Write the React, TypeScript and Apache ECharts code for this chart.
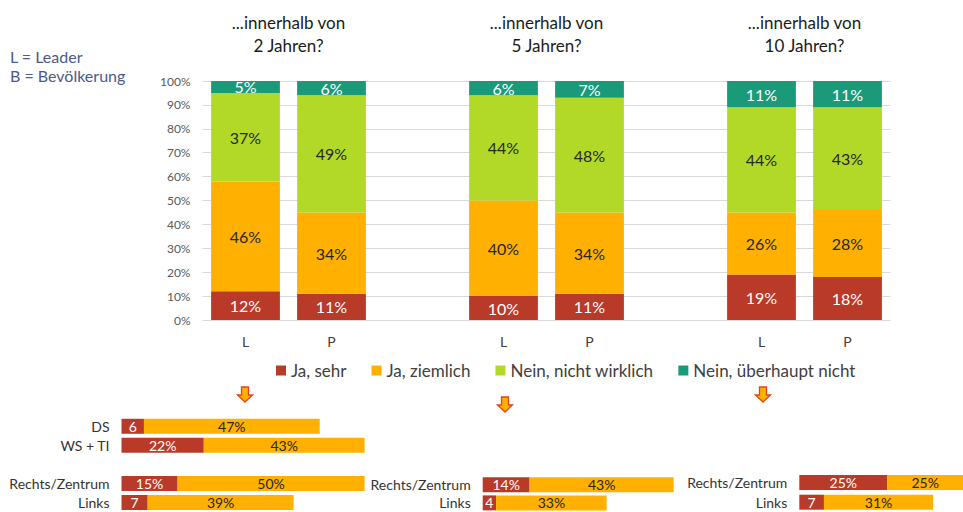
import React, { useEffect, useRef } from "react";
import * as echarts from "echarts";

// ---- Main chart data ----
const mainCategories = ["L", "P", "", "L", "P", "", "L", "P"];
const seriesNames = ["Ja, sehr", "Ja, ziemlich", "Nein, nicht wirklich", "Nein, überhaupt nicht"];
const jaSehr = [12, 11, null, 10, 11, null, 19, 18];
const jaZiemlich = [46, 34, null, 40, 34, null, 26, 28];
const neinNicht = [37, 49, null, 44, 48, null, 44, 43];
const neinUeberhaupt = [5, 6, null, 6, 7, null, 11, 11];
const groupTitles = ["...innerhalb von\n2 Jahren?", "...innerhalb von\n5 Jahren?", "...innerhalb von\n10 Jahren?"];

// ---- Bottom breakdown data ----
const grp1Cats = ["DS", "WS + TI", "", "Rechts/Zentrum", "Links"];
const grp1Sehr = [6, 22, null, 15, 7];
const grp1Ziemlich = [47, 43, null, 50, 39];
const grp2Cats = ["Rechts/Zentrum", "Links"];
const grp2Sehr = [14, 4];
const grp2Ziemlich = [43, 33];
const grp3Cats = ["Rechts/Zentrum", "Links"];
const grp3Sehr = [25, 7];
const grp3Ziemlich = [25, 31];

const COLORS = ["#B93A28", "#FFB000", "#B3D928", "#1B9A7A"];
const FONT = "Lato";

export default function App() {
  const ref = useRef<HTMLDivElement>(null);
  useEffect(() => {
    if (!ref.current) return;
    const chart = echarts.init(ref.current, null, { renderer: "svg" });

    const mainSeriesData = [jaSehr, jaZiemlich, neinNicht, neinUeberhaupt];
    const mainLabelColors = ["#ffffff", "#262626", "#262626", "#ffffff"];
    const mainSeries = mainSeriesData.map((d, i) => ({
      type: "bar",
      name: seriesNames[i],
      stack: "main",
      xAxisIndex: 0,
      yAxisIndex: 0,
      barWidth: "80%",
      data: d,
      itemStyle: { color: COLORS[i] },
      label: {
        show: true,
        position: "inside",
        color: mainLabelColors[i],
        fontSize: 16,
        fontFamily: FONT,
        formatter: (p: any) => (p.value == null ? "" : p.value + "%"),
      },
    }));

    const smallLabel = (p: any) => (p.value == null ? "" : p.value < 10 ? String(p.value) : p.value + "%");
    const bottomGroups = [
      { sehr: grp1Sehr, ziem: grp1Ziemlich },
      { sehr: grp2Sehr, ziem: grp2Ziemlich },
      { sehr: grp3Sehr, ziem: grp3Ziemlich },
    ];
    const bottomSeries: any[] = [];
    bottomGroups.forEach((g, gi) => {
      [g.sehr, g.ziem].forEach((d, si) => {
        bottomSeries.push({
          type: "bar",
          name: seriesNames[si],
          stack: "b" + gi,
          xAxisIndex: gi + 1,
          yAxisIndex: gi + 1,
          barWidth: 15,
          data: d,
          itemStyle: { color: COLORS[si] },
          label: {
            show: true,
            position: "inside",
            color: si === 0 ? "#ffffff" : "#262626",
            fontSize: 14,
            fontFamily: FONT,
            formatter: smallLabel,
          },
        });
      });
    });

    const bottomYAxis = (cats: string[], gi: number) => ({
      type: "category",
      gridIndex: gi,
      data: cats,
      inverse: true,
      axisLine: { show: false },
      axisTick: { show: false },
      axisLabel: { color: "#333333", fontSize: 14, fontFamily: FONT, margin: 12 },
    });
    const bottomXAxis = (gi: number, max: number) => ({
      type: "value",
      gridIndex: gi,
      min: 0,
      max,
      show: false,
    });

    const titleCenters = [288.5, 546.5, 804.5];
    const arrows = [
      [245, 387],
      [505, 397],
      [763, 387],
    ];

    const graphics: any[] = [];
    groupTitles.forEach((t, i) => {
      graphics.push({
        type: "text",
        x: titleCenters[i],
        y: 11,
        style: {
          text: t,
          textAlign: "center",
          fontSize: 17,
          fontFamily: FONT,
          lineHeight: 23,
          fill: "#1a1a1a",
        },
      });
    });
    graphics.push({
      type: "text",
      x: 10,
      y: 47,
      style: {
        text: "L = Leader\nB = Bevölkerung",
        fontSize: 16,
        lineHeight: 19,
        fontFamily: FONT,
        fill: "#4A5A8C",
      },
    });
    arrows.forEach(([cx, y0]) => {
      graphics.push({
        type: "polygon",
        shape: {
          points: [
            [cx - 3.5, y0],
            [cx + 3.5, y0],
            [cx + 3.5, y0 + 8],
            [cx + 7.5, y0 + 8],
            [cx, y0 + 15],
            [cx - 7.5, y0 + 8],
            [cx - 3.5, y0 + 8],
          ],
        },
        style: { fill: "#FFB000", stroke: "#E2451C", lineWidth: 1.3 },
      });
    });

    chart.setOption({
      animation: false,
      textStyle: { fontFamily: FONT },
      legend: {
        data: seriesNames,
        left: 271,
        top: 357,
        icon: "rect",
        itemWidth: 10,
        itemHeight: 10,
        itemGap: 25,
        textStyle: { fontSize: 17, color: "#404040", fontFamily: FONT },
      },
      grid: [
        { left: 202.5, top: 81, width: 688, height: 239 },
        { left: 121.5, top: 416.75, width: 374, height: 97.5 },
        { left: 482.7, top: 475.5, width: 335, height: 39 },
        // visible part of the third breakdown (continues past the page edge): 3.52 px per %
        { left: 799.3, top: 472.75, width: 163.7, height: 39.5 },
      ],
      xAxis: [
        {
          type: "category",
          gridIndex: 0,
          data: mainCategories,
          axisLine: { show: false },
          axisTick: { show: false },
          axisLabel: { color: "#404040", fontSize: 14, fontFamily: FONT, margin: 14 },
        },
        bottomXAxis(1, 100),
        bottomXAxis(2, 100),
        bottomXAxis(3, 46.5),
      ],
      yAxis: [
        {
          type: "value",
          gridIndex: 0,
          min: 0,
          max: 100,
          interval: 10,
          axisLine: { show: false },
          axisTick: { show: false },
          splitLine: { lineStyle: { color: "#D9D9D9" } },
          axisLabel: { color: "#595959", fontSize: 12, fontFamily: FONT, margin: 12, formatter: "{value}%" },
        },
        bottomYAxis(grp1Cats, 1),
        bottomYAxis(grp2Cats, 2),
        bottomYAxis(grp3Cats, 3),
      ],
      series: [...mainSeries, ...bottomSeries],
      graphic: graphics,
    });
    return () => chart.dispose();
  }, []);
  return (
    <div
      ref={ref}
      style={{ position: "fixed", left: 0, top: 0, width: 963, height: 512, background: "#ffffff" }}
    />
  );
}
